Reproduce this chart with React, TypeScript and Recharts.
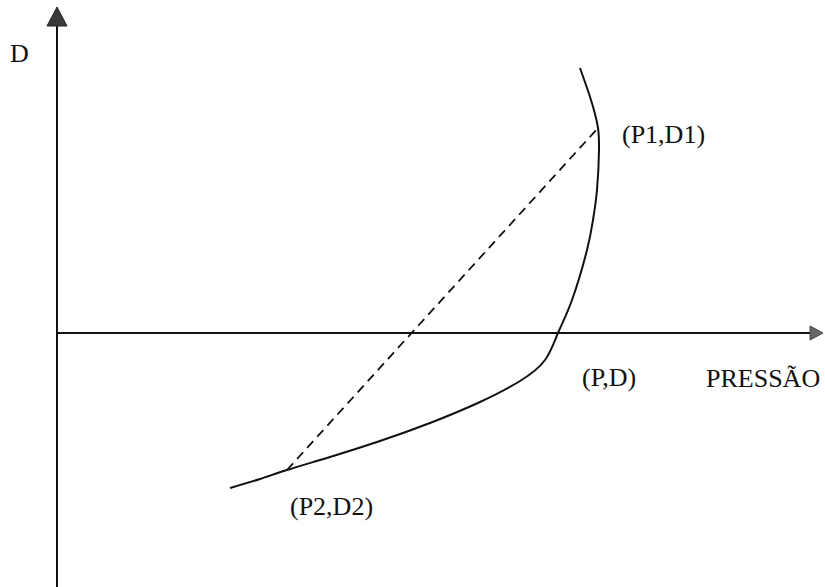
import React from "react";
import { ComposedChart, XAxis, YAxis, Line, Scatter, ReferenceLine } from "recharts";

// Curve (pressure P vs D), arbitrary units
const curveP = [17.3, 20.3, 23.0, 27.3, 32.3, 37.3, 42.3, 46.3, 48.8, 50.1, 51.5, 53.0, 53.6, 54.0, 54.2, 54.1, 53.8, 53.4, 52.9, 52.3];
const curveD = [-15.5, -14.6, -13.7, -12.4, -10.8, -9.0, -6.9, -4.8, -2.7, 0, 3.3, 8.3, 11.3, 14.3, 18.3, 20.5, 21.9, 23.3, 24.8, 26.5];

// Chord between (P2,D2) and (P1,D1)
const chordP = [23.0, 54.1];
const chordD = [-13.7, 20.5];

// Labels
const labelText = ["D", "(P1,D1)", "(P,D)", "PRESSÃO", "(P2,D2)"];
const labelP = [-4.7, 56.5, 52.5, 64.9, 23.3];
const labelD = [27.1, 19.0, -5.3, -5.4, -18.2];

// Axis extents
const xDomain: [number, number] = [-5.7, 76.8];
const yDomain: [number, number] = [-25.4, 33.3];
const yArrowTip = 32.6;
const xArrowTip = 76.6;

const curve = curveP.map((p, i) => ({ p, d: curveD[i] }));
const chord = chordP.map((p, i) => ({ p, d: chordD[i] }));
const labels = labelText.map((t, i) => ({ p: labelP[i], d: labelD[i], t }));
const upArrow = [{ p: 0, d: yArrowTip }];
const rightArrow = [{ p: xArrowTip, d: 0 }];

const FONT = '"Liberation Serif", "Times New Roman", serif';

const UpArrowShape = (props: any) => {
  const { cx, cy } = props;
  return <path d={`M${cx},${cy} L${cx + 10},${cy + 19} L${cx - 10},${cy + 19} Z`} fill="#3a3a3a" stroke="#222" strokeWidth={1} />;
};
const RightArrowShape = (props: any) => {
  const { cx, cy } = props;
  return <path d={`M${cx},${cy} L${cx - 13},${cy - 7} L${cx - 13},${cy + 7} Z`} fill="#666" stroke="#444" strokeWidth={1} />;
};
const LabelShape = (props: any) => {
  const { cx, cy, payload } = props;
  return (
    <text x={cx} y={cy} fontFamily={FONT} fontSize={26} fill="#111" textAnchor="start">
      {payload.t}
    </text>
  );
};

export default function App() {
  return (
    <div style={{ position: "absolute", left: 0, top: 0, background: "#fff" }}>
      <ComposedChart width={825} height={587} margin={{ top: 0, right: 0, bottom: 0, left: 0 }}>
        <XAxis type="number" dataKey="p" domain={xDomain} hide allowDataOverflow />
        <YAxis type="number" dataKey="d" domain={yDomain} hide allowDataOverflow />
        <ReferenceLine segment={[{ x: 0, y: yArrowTip - 1.5 }, { x: 0, y: yDomain[0] }]} stroke="#111" strokeWidth={2} />
        <ReferenceLine segment={[{ x: 0, y: 0 }, { x: xArrowTip - 1, y: 0 }]} stroke="#111" strokeWidth={2} />
        <Line data={chord} dataKey="d" type="linear" stroke="#111" strokeWidth={1.8} strokeDasharray="9 6" dot={false} isAnimationActive={false} />
        <Line data={curve} dataKey="d" type="natural" stroke="#111" strokeWidth={2} dot={false} isAnimationActive={false} />
        <Scatter data={upArrow} dataKey="d" shape={UpArrowShape} isAnimationActive={false} />
        <Scatter data={rightArrow} dataKey="d" shape={RightArrowShape} isAnimationActive={false} />
        <Scatter data={labels} dataKey="d" shape={LabelShape} isAnimationActive={false} />
      </ComposedChart>
    </div>
  );
}
